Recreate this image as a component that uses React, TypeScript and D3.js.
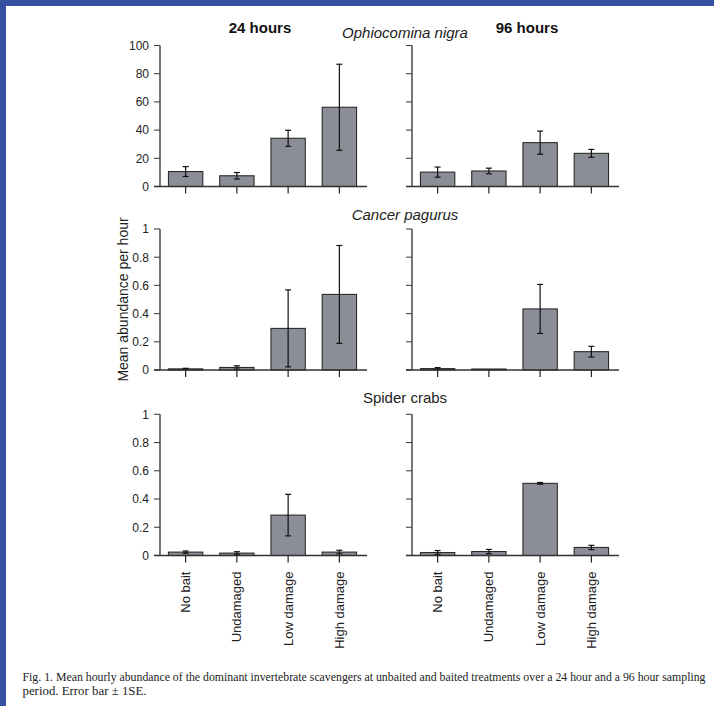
import React from "react";
import * as d3 from "d3";

const categories = ["No bait", "Undamaged", "Low damage", "High damage"];
const timeTitles = ["24 hours", "96 hours"];
const speciesTitles = ["Ophiocomina nigra", "Cancer pagurus", "Spider crabs"];

const ophio24 = [10.6, 7.6, 34.2, 56.2];
const ophio24Err = [3.5, 2.3, 5.7, 30.5];
const ophio96 = [10.2, 11.0, 31.1, 23.5];
const ophio96Err = [3.6, 2.0, 8.2, 2.8];
const cancer24 = [0.008, 0.018, 0.295, 0.536];
const cancer24Err = [0.004, 0.012, 0.273, 0.347];
const cancer96 = [0.01, 0.007, 0.433, 0.13];
const cancer96Err = [0.007, 0.0, 0.174, 0.038];
const spider24 = [0.024, 0.017, 0.286, 0.024];
const spider24Err = [0.008, 0.01, 0.147, 0.013];
const spider96 = [0.021, 0.028, 0.511, 0.057];
const spider96Err = [0.014, 0.015, 0.006, 0.015];

const ticksOphio = [0, 20, 40, 60, 80, 100];
const ticksUnit = [0, 0.2, 0.4, 0.6, 0.8, 1];

const yLabel = "Mean abundance per hour";
const captionLine1 =
  "Fig. 1. Mean hourly abundance of the dominant invertebrate scavengers at unbaited and baited treatments over a 24 hour and a 96 hour sampling";
const captionLine2 = "period. Error bar \u00b1 1SE.";

const rowsData = [
  { values: [ophio24, ophio96], errs: [ophio24Err, ophio96Err], max: 100, ticks: ticksOphio },
  { values: [cancer24, cancer96], errs: [cancer24Err, cancer96Err], max: 1, ticks: ticksUnit },
  { values: [spider24, spider96], errs: [spider24Err, spider96Err], max: 1, ticks: ticksUnit },
];

const W = 714;
const H = 706;
const colX = [160, 412];
const bandW = 205;
const rowPos = [
  { top: 45.5, base: 186.5 },
  { top: 229, base: 370 },
  { top: 414.3, base: 555.5 },
];
const speciesY = [38, 220, 403];
const titleX = [260, 527];

const BAR_FILL = "#8b8e97";
const BAR_STROKE = "#2b2b2b";
const AXIS = "#444";
const SANS = "'Liberation Sans', Arial, Helvetica, sans-serif";
const SERIF = "'Liberation Serif', 'Times New Roman', serif";

function Panel({ row, col }: { row: number; col: number }) {
  const d = rowsData[row];
  const vals = d.values[col];
  const errs = d.errs[col];
  const x0 = colX[col];
  const { top, base } = rowPos[row];
  const x = d3.scaleBand<string>().domain(categories).range([x0, x0 + bandW]).paddingInner(0.33).paddingOuter(0.165);
  const y = d3.scaleLinear().domain([0, d.max]).range([base, top]);
  const fmt = (v: number) => (d.max === 100 ? String(v) : v === 0 ? "0" : v === 1 ? "1" : d3.format(".1f")(v));
  const bottomRow = row === 2;
  return (
    <g>
      <line x1={x0} x2={x0} y1={y(d.max)} y2={y(0)} stroke="#555" strokeWidth={1.6} />
      {d.ticks.map((t) => (
        <g key={t}>
          <line x1={x0 - 6} x2={x0} y1={y(t)} y2={y(t)} stroke={AXIS} strokeWidth={1.1} />
          {col === 0 && (
            <text x={x0 - 11} y={y(t)} dy="0.36em" textAnchor="end" fontSize={12} fill="#222" fontFamily={SANS}>
              {fmt(t)}
            </text>
          )}
        </g>
      ))}
      {categories.map((c, i) => {
        const bx = x(c) as number;
        const cx = bx + x.bandwidth() / 2;
        const v = vals[i];
        const e = errs[i];
        return (
          <g key={c}>
            <rect x={bx} y={y(v)} width={x.bandwidth()} height={y(0) - y(v)} fill={BAR_FILL} stroke={BAR_STROKE} strokeWidth={1.1} />
            {e > 0 && (
              <g stroke="#111" strokeWidth={1.2}>
                <line x1={cx} x2={cx} y1={y(v + e)} y2={y(Math.max(0, v - e))} />
                <line x1={cx - 3} x2={cx + 3} y1={y(v + e)} y2={y(v + e)} />
                <line x1={cx - 3} x2={cx + 3} y1={y(Math.max(0, v - e))} y2={y(Math.max(0, v - e))} />
              </g>
            )}
            <line x1={cx} x2={cx} y1={base} y2={base + 7} stroke="#222" strokeWidth={1.2} />
            {bottomRow && (
              <text
                transform={`translate(${cx},${base + 16}) rotate(-90)`}
                textAnchor="end"
                dy="0.35em"
                fontSize={13}
                fill="#222"
                fontFamily={SANS}
              >
                {c}
              </text>
            )}
          </g>
        );
      })}
      <line x1={x0 - 6} x2={x0 + bandW + 2} y1={base} y2={base} stroke="#333" strokeWidth={1.3} />
    </g>
  );
}

export default function App() {
  return (
    <svg width={W} height={H} style={{ position: "absolute", left: 0, top: 0, background: "#fff" }}>
      <rect x={0} y={0} width={W} height={H} fill="#fff" />
      <rect x={0} y={0} width={W} height={6} fill="#3550a2" />
      <rect x={0} y={0} width={6} height={H} fill="#3550a2" />
      {timeTitles.map((t, i) => (
        <text key={t} x={titleX[i]} y={33} textAnchor="middle" fontSize={15} fontWeight="bold" fill="#111" fontFamily={SANS}>
          {t}
        </text>
      ))}
      {speciesTitles.map((s, i) => (
        <text key={s} x={405} y={speciesY[i]} textAnchor="middle" fontSize={15} fontStyle={i < 2 ? "italic" : "normal"} fill="#222" fontFamily={SANS}>
          {s}
        </text>
      ))}
      <text transform="translate(128,299.5) rotate(-90)" textAnchor="middle" fontSize={14} fill="#222" fontFamily={SANS}>
        {yLabel}
      </text>
      {[0, 1, 2].map((r) => [0, 1].map((c) => <Panel key={`${r}-${c}`} row={r} col={c} />))}
      <text x={22.5} y={680.5} fontSize={11.5} fill="#222" fontFamily={SERIF} textLength={683} lengthAdjust="spacingAndGlyphs">
        {captionLine1}
      </text>
      <text x={22.5} y={695} fontSize={11.5} fill="#222" fontFamily={SERIF} textLength={124} lengthAdjust="spacingAndGlyphs">
        {captionLine2}
      </text>
    </svg>
  );
}
